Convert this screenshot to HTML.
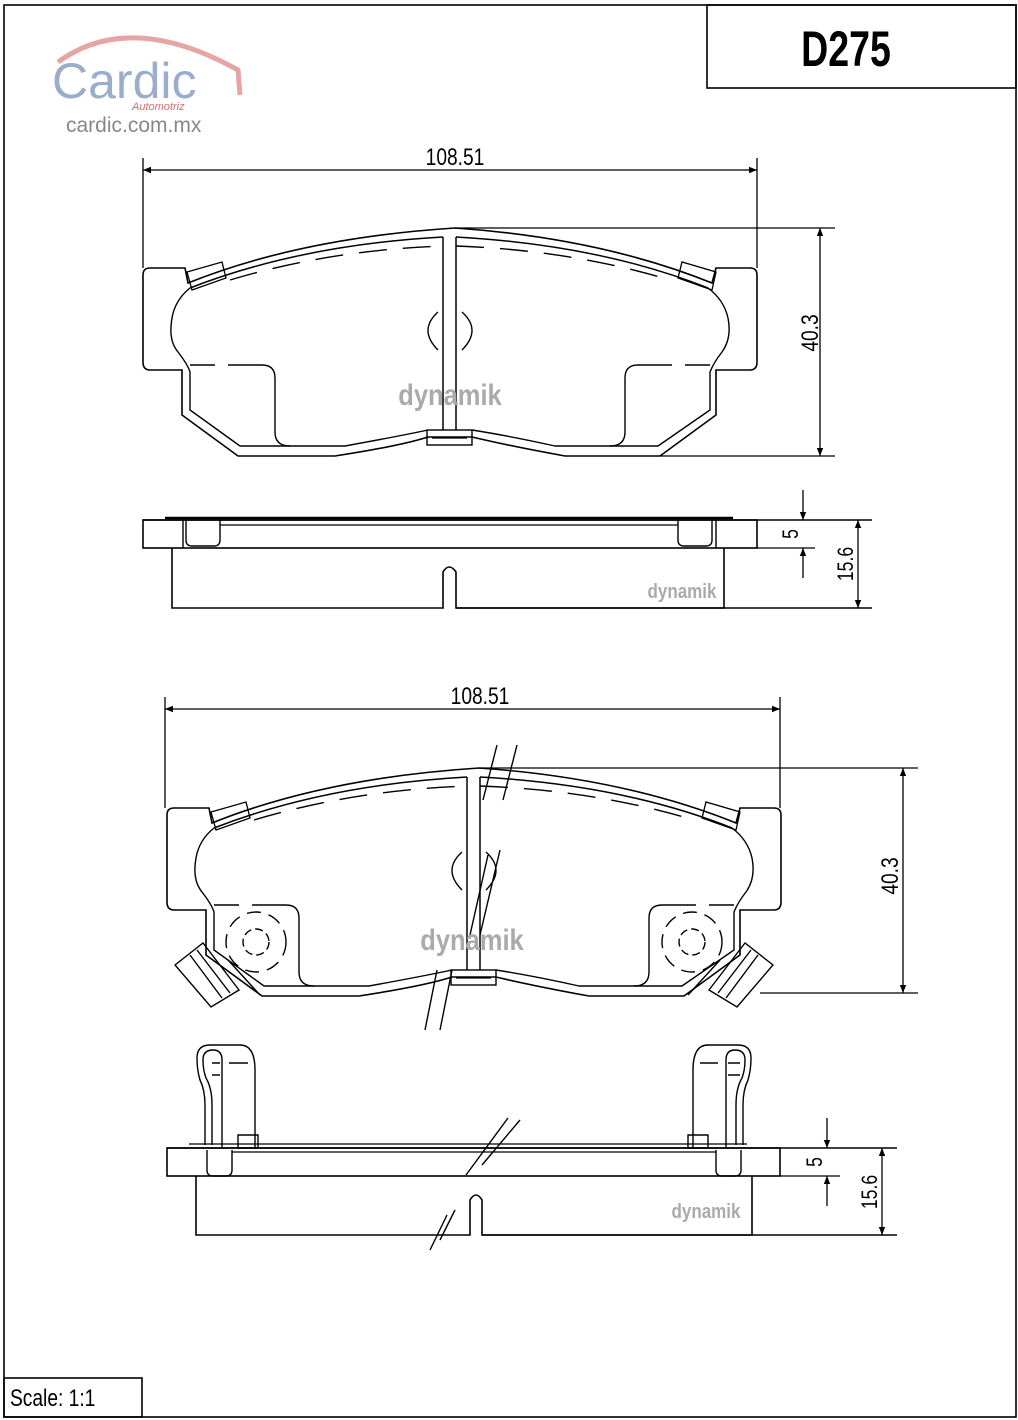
<!DOCTYPE html>
<html><head><meta charset="utf-8"><style>
html,body{margin:0;padding:0;background:#fff}
svg{display:block}
text{font-family:"Liberation Sans",sans-serif}
</style></head><body>
<svg width="1018" height="1420" viewBox="0 0 1018 1420" xmlns="http://www.w3.org/2000/svg">
<defs>
<marker id="a" viewBox="0 0 10 10" refX="10" refY="5" markerWidth="12" markerHeight="8" orient="auto-start-reverse" markerUnits="userSpaceOnUse"><path d="M0,1 L10,5 L0,9 Z" fill="#000"/></marker>
<g id="pad">
 <path d="M185,268 L150,268 Q143,268 143,275 L143,362 Q143,370 150,370 L182,370 L182,415 L238,456 L335,456 Q400,446 428,437 L472,437 Q510,446 565,456 L660,456 L716,415 L716,370 L750,370 Q757,370 757,362 L757,275 Q757,268 750,268 L716,268 L712,283 Q600,238 455,228 Q300,238 188,283 Z" fill="none" stroke="#000" stroke-width="1.6"/>
 <path d="M190,288 Q300,245 443,237 M456,237 Q600,245 708,288" fill="none" stroke="#000" stroke-width="1.5"/>
 <path d="M230,280 Q330,250 443,246 M456,246 Q570,250 670,280" fill="none" stroke="#000" stroke-width="1.4" stroke-dasharray="28,16"/>
 <path d="M190,288 Q175,300 172,318 Q168,340 178,352 Q188,365 190,372 L190,410 L240,446 L345,446 Q400,436 428,430 M472,430 Q510,436 555,446 L658,446 L710,410 L710,372 Q714,362 722,352 Q732,338 728,318 Q724,300 708,288" fill="none" stroke="#000" stroke-width="1.4"/>
 <path d="M228,365 L262,365 Q275,365 275,378 L275,432 Q275,446 290,446 M190,365 L215,365 M625,432 Q625,446 610,446 M625,432 L625,378 Q625,365 638,365 L672,365 M685,365 L710,365" fill="none" stroke="#000" stroke-width="1.4"/>
 <line x1="443" y1="237" x2="443" y2="430" stroke="#000" stroke-width="1.5"/>
 <line x1="456" y1="237" x2="456" y2="430" stroke="#000" stroke-width="1.5"/>
 <rect x="427" y="430" width="45" height="15" fill="none" stroke="#000" stroke-width="1.4"/>
 <line x1="432" y1="438" x2="467" y2="438" stroke="#000" stroke-width="1.2"/>
 <path d="M438,312 Q418,330 438,350 M462,312 Q482,330 462,350" fill="none" stroke="#000" stroke-width="1.4"/>
 <path d="M187,272 L222,262 L226,278 L192,290 Z M712,290 L678,278 L682,262 L716,272 Z" fill="none" stroke="#000" stroke-width="1.3"/>
</g>
</defs>

<rect x="4" y="5" width="1012" height="1412" fill="none" stroke="#000" stroke-width="1.6"/>
<rect x="707" y="5" width="309" height="83" fill="none" stroke="#000" stroke-width="1.6"/>
<text x="846" y="66" text-anchor="middle" font-size="50" font-weight="bold" transform="translate(846 0) scale(0.75 1) translate(-846 0)">D275</text>
<rect x="4" y="1378" width="138" height="39" fill="none" stroke="#000" stroke-width="1.6"/>
<text x="10" y="1406" font-size="24" transform="translate(10 0) scale(0.8 1) translate(-10 0)">Scale:  1:1</text>

<path d="M58,62 Q130,10 238,70 L240,95" fill="none" stroke="#e7a4a4" stroke-width="5"/>
<text x="52" y="98" font-size="50" fill="#9aaecb">Cardic</text>
<text x="132" y="110" font-size="11" fill="#d07070" font-style="italic">Automotriz</text>
<text x="66" y="132" font-size="21" fill="#888" font-family="Liberation Serif, serif">cardic.com.mx</text>

<use href="#pad"/>
<text x="450" y="405" text-anchor="middle" font-size="30" font-weight="bold" fill="#aaa" transform="translate(450 0) scale(0.85 1) translate(-450 0)">dynamik</text>
<line x1="143" y1="158" x2="143" y2="268" stroke="#000" stroke-width="1.3"/>
<line x1="757" y1="158" x2="757" y2="268" stroke="#000" stroke-width="1.3"/>
<line x1="143" y1="170" x2="757" y2="170" stroke="#000" stroke-width="1.3" marker-start="url(#a)" marker-end="url(#a)"/>
<text x="455" y="165" text-anchor="middle" font-size="24" transform="translate(455 0) scale(0.8 1) translate(-455 0)">108.51</text>
<line x1="455" y1="228" x2="835" y2="228" stroke="#000" stroke-width="1.3"/>
<line x1="660" y1="456" x2="835" y2="456" stroke="#000" stroke-width="1.3"/>
<line x1="820" y1="228" x2="820" y2="456" stroke="#000" stroke-width="1.3" marker-start="url(#a)" marker-end="url(#a)"/>
<text transform="translate(818 333) rotate(-90) scale(0.8 1)" text-anchor="middle" font-size="24">40.3</text>

<line x1="165" y1="518" x2="733" y2="518" stroke="#000" stroke-width="2.5"/>
<line x1="143" y1="520" x2="872" y2="520" stroke="#000" stroke-width="1.4"/>
<rect x="143" y="520" width="614" height="28" fill="none" stroke="#000" stroke-width="1.6"/>
<line x1="183" y1="520" x2="183" y2="548" stroke="#000" stroke-width="1.4"/>
<line x1="716" y1="520" x2="716" y2="548" stroke="#000" stroke-width="1.4"/>
<path d="M186,520 L186,540 Q186,546 192,546 L214,546 Q220,546 220,540 L220,520 M678,520 L678,540 Q678,546 684,546 L706,546 Q712,546 712,540 L712,520" fill="none" stroke="#000" stroke-width="1.4"/>
<line x1="220" y1="525" x2="678" y2="525" stroke="#000" stroke-width="1.2"/>
<path d="M172,548 L172,608 L443,608 L443,572 Q449,562 456,572 L456,608 L724,608 L724,548" fill="none" stroke="#000" stroke-width="1.6"/>
<line x1="456" y1="608" x2="872" y2="608" stroke="#000" stroke-width="1.4"/>
<line x1="757" y1="548" x2="815" y2="548" stroke="#000" stroke-width="1.3"/>
<line x1="803" y1="490" x2="803" y2="520" stroke="#000" stroke-width="1.3" marker-end="url(#a)"/>
<line x1="803" y1="578" x2="803" y2="548" stroke="#000" stroke-width="1.3" marker-end="url(#a)"/>
<text transform="translate(798 534) rotate(-90) scale(0.8 1)" text-anchor="middle" font-size="22">5</text>
<line x1="858" y1="520" x2="858" y2="608" stroke="#000" stroke-width="1.3" marker-start="url(#a)" marker-end="url(#a)"/>
<text transform="translate(853 564) rotate(-90) scale(0.8 1)" text-anchor="middle" font-size="22">15.6</text>
<text x="682" y="598" text-anchor="middle" font-size="20" font-weight="bold" fill="#aaa" transform="translate(682 0) scale(0.85 1) translate(-682 0)">dynamik</text>

<g transform="translate(24 540)"><use href="#pad"/></g>
<g fill="none" stroke="#000" stroke-width="1.4">
 <circle cx="256" cy="942" r="30" stroke-dasharray="14,8"/>
 <circle cx="256" cy="942" r="13" stroke-dasharray="8,4"/>
 <circle cx="692" cy="942" r="30" stroke-dasharray="14,8"/>
 <circle cx="692" cy="942" r="13" stroke-dasharray="8,4"/>
 <path d="M175,965 L203,943 L239,990 L211,1007 Z M190,955 L222,998 M197,950 L230,993"/>
 <path d="M773,965 L745,943 L709,990 L737,1007 Z M758,955 L726,998 M751,950 L718,993"/>
 <path d="M228,960 L260,995 M720,960 L688,995"/>
 <path d="M497,745 L483,800 M517,745 L503,800"/>
 <path d="M488,855 L470,935 M500,850 L480,935"/>
 <path d="M437,970 L425,1030 M452,970 L440,1030"/>
 <path d="M520,1120 L482,1165 M508,1118 L466,1175"/>
 <path d="M440,1240 L455,1210 M430,1250 L447,1215"/>
</g>
<text x="472" y="950" text-anchor="middle" font-size="30" font-weight="bold" fill="#aaa" transform="translate(472 0) scale(0.85 1) translate(-472 0)">dynamik</text>
<line x1="165" y1="697" x2="165" y2="808" stroke="#000" stroke-width="1.3"/>
<line x1="780" y1="697" x2="780" y2="808" stroke="#000" stroke-width="1.3"/>
<line x1="165" y1="709" x2="780" y2="709" stroke="#000" stroke-width="1.3" marker-start="url(#a)" marker-end="url(#a)"/>
<text x="480" y="704" text-anchor="middle" font-size="24" transform="translate(480 0) scale(0.8 1) translate(-480 0)">108.51</text>
<line x1="479" y1="768" x2="918" y2="768" stroke="#000" stroke-width="1.3"/>
<line x1="760" y1="993" x2="918" y2="993" stroke="#000" stroke-width="1.3"/>
<line x1="903" y1="768" x2="903" y2="993" stroke="#000" stroke-width="1.3" marker-start="url(#a)" marker-end="url(#a)"/>
<text transform="translate(898 876) rotate(-90) scale(0.8 1)" text-anchor="middle" font-size="24">40.3</text>

<g fill="none" stroke="#000" stroke-width="1.4">
 <path d="M205,1145 L205,1105 Q205,1090 200,1080 Q197,1070 197,1058 Q197,1045 210,1045 L240,1045 Q255,1045 255,1070 L255,1148"/>
 <path d="M212,1145 L212,1105 Q212,1088 206,1078 Q203,1070 203,1060 Q203,1050 213,1050 Q222,1050 222,1060 L222,1148"/>
 <path d="M743,1145 L743,1105 Q743,1090 748,1080 Q751,1070 751,1058 Q751,1045 738,1045 L708,1045 Q693,1045 693,1070 L693,1148"/>
 <path d="M736,1145 L736,1105 Q736,1088 742,1078 Q745,1070 745,1060 Q745,1050 735,1050 Q726,1050 726,1060 L726,1148"/>
 <path d="M212,1063 L220,1063 M212,1075 L220,1075 M229,1063 L248,1063 M238,1135 L258,1135 L258,1148 L238,1148 Z M728,1063 L740,1063 M728,1075 L740,1075 M700,1063 L718,1063 M688,1135 L708,1135 L708,1148 L688,1148 Z"/>
 <path d="M207,1150 L207,1170 Q207,1176 213,1176 L226,1176 Q232,1176 232,1170 L232,1150 M716,1150 L716,1170 Q716,1176 722,1176 L735,1176 Q741,1176 741,1170 L741,1150"/>
</g>
<line x1="189" y1="1144" x2="747" y2="1144" stroke="#000" stroke-width="1.3"/>
<line x1="167" y1="1148" x2="897" y2="1148" stroke="#000" stroke-width="1.4"/>
<rect x="167" y="1148" width="613" height="28" fill="none" stroke="#000" stroke-width="1.6"/>
<line x1="232" y1="1152" x2="716" y2="1152" stroke="#000" stroke-width="1.2"/>
<path d="M196,1176 L196,1235 L470,1235 L470,1200 Q476,1190 482,1200 L482,1235 L752,1235 L752,1176" fill="none" stroke="#000" stroke-width="1.6"/>
<line x1="482" y1="1235" x2="897" y2="1235" stroke="#000" stroke-width="1.4"/>
<line x1="780" y1="1176" x2="840" y2="1176" stroke="#000" stroke-width="1.3"/>
<line x1="827" y1="1118" x2="827" y2="1148" stroke="#000" stroke-width="1.3" marker-end="url(#a)"/>
<line x1="827" y1="1206" x2="827" y2="1176" stroke="#000" stroke-width="1.3" marker-end="url(#a)"/>
<text transform="translate(822 1162) rotate(-90) scale(0.8 1)" text-anchor="middle" font-size="22">5</text>
<line x1="882" y1="1148" x2="882" y2="1235" stroke="#000" stroke-width="1.3" marker-start="url(#a)" marker-end="url(#a)"/>
<text transform="translate(877 1192) rotate(-90) scale(0.8 1)" text-anchor="middle" font-size="22">15.6</text>
<text x="706" y="1218" text-anchor="middle" font-size="20" font-weight="bold" fill="#aaa" transform="translate(706 0) scale(0.85 1) translate(-706 0)">dynamik</text>
</svg>
</body></html>
